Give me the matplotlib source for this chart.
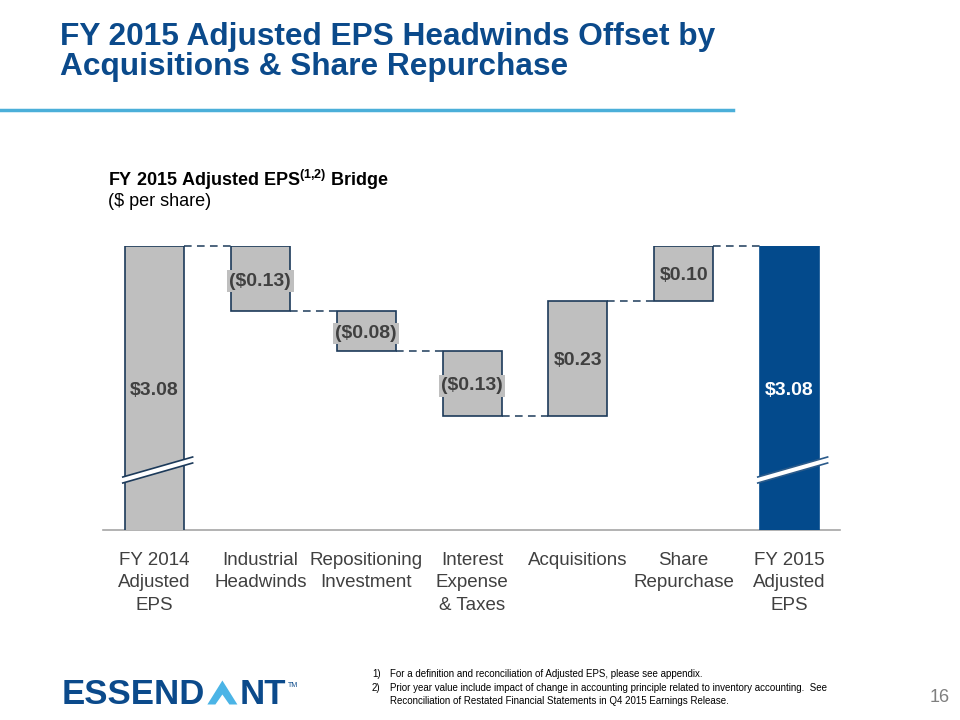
import matplotlib
matplotlib.use("Agg")
import matplotlib.pyplot as plt
from matplotlib.patches import Polygon

plt.rcParams['font.family'] = ['Liberation Sans', 'DejaVu Sans']

# Data
categories = ["FY 2014\nAdjusted\nEPS", "Industrial\nHeadwinds", "Repositioning\nInvestment",
              "Interest\nExpense\n& Taxes", "Acquisitions", "Share\nRepurchase",
              "FY 2015\nAdjusted\nEPS"]
start_eps = 3.08
deltas = [-0.13, -0.08, -0.13, 0.23, 0.10]
end_eps = 3.08
labels = ["$3.08", "($0.13)", "($0.08)", "($0.13)", "$0.23", "$0.10", "$3.08"]

GRAY = "#bfbfbf"
EDGE = "#1c3a5a"
NAVY = "#034a8c"
TITLE = "#0b4a8b"
TXT = "#404040"

fig = plt.figure(figsize=(9.6, 7.2), dpi=100)

# title + rule
fig.text(60 / 960, 1 - 37 / 720, "FY 2015 Adjusted EPS Headwinds Offset by", fontsize=22.8,
         fontweight="bold", color=TITLE, va="center", ha="left")
fig.text(60 / 960, 1 - 67 / 720, "Acquisitions & Share Repurchase", fontsize=22.8,
         fontweight="bold", color=TITLE, va="center", ha="left")
fig.add_artist(plt.Line2D([0, 733 / 960], [1 - 110 / 720, 1 - 110 / 720],
                          color="#4bafd9", lw=2.5))

fig.text(108 / 960, 1 - 180 / 720, r"FY 2015 Adjusted EPS$^{\mathregular{(1{,}2)}}$ Bridge",
         fontsize=13, fontweight="bold", color="black", va="center", ha="left")
fig.text(108 / 960, 1 - 201 / 720, "($ per share)", fontsize=13, color="black",
         va="center", ha="left")

# chart axes
x0, x1 = -0.487, 6.477
y_lo, y_hi = 2.512, 3.08
ax = fig.add_axes([103 / 960, 1 - 530 / 720, (840 - 103) / 960, (530 - 246) / 720])
ax.set_xlim(x0, x1)
ax.set_ylim(y_lo, y_hi)
for s in ax.spines.values():
    s.set_visible(False)
ax.set_xticks([])
ax.set_yticks([])
ax.axhline(y_lo, color="#a6a6a6", lw=1.2, clip_on=False)

w = 0.557
# running totals
levels = [start_eps]
for d in deltas:
    levels.append(levels[-1] + d)
bottoms = [0]
heights = [start_eps]
for i, d in enumerate(deltas):
    lo, hi = sorted([levels[i], levels[i + 1]])
    if i == len(deltas) - 1:
        hi = end_eps  # last step closes on the reported total
    bottoms.append(lo)
    heights.append(hi - lo)
bottoms.append(0)
heights.append(end_eps)

colors = [GRAY] * 6 + [NAVY]
edges = [EDGE] * 6 + [NAVY]
xs = list(range(len(categories)))
ax.bar(xs, heights, bottom=bottoms, width=w, color=colors, edgecolor=edges,
       linewidth=1.2, clip_on=True, zorder=2)

# connectors
conn = [start_eps] + levels[1:-1] + [end_eps]
for i in range(len(xs) - 1):
    ax.plot([xs[i] + w / 2, xs[i + 1] - w / 2], [conn[i], conn[i]], color=EDGE,
            lw=1.1, ls=(0, (5, 3.5)), zorder=1, clip_on=False)

# value labels
for i, lab in enumerate(labels):
    if i in (0, 6):
        yc = (y_lo + heights[i]) / 2
    else:
        yc = bottoms[i] + heights[i] / 2
    yc -= 0.005
    col = "white" if i == 6 else TXT
    kw = {}
    if lab.startswith("("):
        kw["bbox"] = dict(boxstyle="square,pad=0.12", fc=GRAY, ec="none")
    ax.text(xs[i], yc, lab, ha="center", va="center", fontsize=14, fontweight="bold",
            color=col, zorder=4, **kw)

# axis break marks
for i in (0, 6):
    xa, xb = xs[i] - 0.30, xs[i] + 0.36
    ya, yb = 2.606, 2.646
    g = 0.012
    lc = EDGE if i == 0 else "#2a5a8a"
    ax.add_patch(Polygon([[xa, ya], [xb, yb], [xb, yb + g], [xa, ya + g]], closed=True,
                         fc="white", ec="none", zorder=3, clip_on=False))
    ax.plot([xa, xb], [ya, yb], color=lc, lw=1.2, zorder=3)
    ax.plot([xa, xb], [ya + g, yb + g], color=lc, lw=1.2, zorder=3)

# category labels
for i, cat in enumerate(categories):
    ax.text(xs[i], y_lo - 0.044, cat, ha="center", va="top", fontsize=13.5,
            color=TXT, linespacing=1.42, clip_on=False)

# footnotes
fig.text(372 / 960, 1 - 674 / 720, "1)", fontsize=7, color="black", va="center")
fig.text(390 / 960, 1 - 674 / 720,
         "For a definition and reconciliation of Adjusted EPS, please see appendix.",
         fontsize=7, color="black", va="center")
fig.text(372 / 960, 1 - 688 / 720, "2)", fontsize=7, color="black", va="center")
fig.text(390 / 960, 1 - 688 / 720,
         "Prior year value include impact of change in accounting principle related to inventory accounting.  See",
         fontsize=7, color="black", va="center")
fig.text(390 / 960, 1 - 701 / 720,
         "Reconciliation of Restated Financial Statements in Q4 2015 Earnings Release.",
         fontsize=7, color="black", va="center")
fig.text(950 / 960, 1 - 697 / 720, "16", fontsize=13, color="#7f7f7f", va="center", ha="right")

# logo
renderer = fig.canvas.get_renderer()
lx = 62 / 960
ly = 1 - 694 / 720
t1 = fig.text(lx, ly, "ESSEND", fontsize=25, fontweight="heavy", color="#0b4a8b",
              va="center", ha="left")
bb = t1.get_window_extent(renderer)
ax_px = bb.x1 + 2
base = bb.y0 + 6
top = bb.y1 - 3
fig.add_artist(Polygon([[ax_px / 960, base / 720],
                        [(ax_px + 15) / 960, top / 720],
                        [(ax_px + 30) / 960, base / 720],
                        [(ax_px + 22) / 960, base / 720],
                        [(ax_px + 15) / 960, (top - 14) / 720],
                        [(ax_px + 8) / 960, base / 720]],
                       closed=True, fc="#4bb4e6", ec="none",
                       transform=fig.transFigure))
t2 = fig.text((ax_px + 32) / 960, ly, "NT", fontsize=25, fontweight="heavy",
              color="#0b4a8b", va="center", ha="left")
bb2 = t2.get_window_extent(renderer)
fig.text((bb2.x1 + 2) / 960, (bb2.y1 - 8) / 720, "TM", fontsize=5, color="#0b4a8b",
         va="center", ha="left")

fig.savefig("out.png", dpi=100)
